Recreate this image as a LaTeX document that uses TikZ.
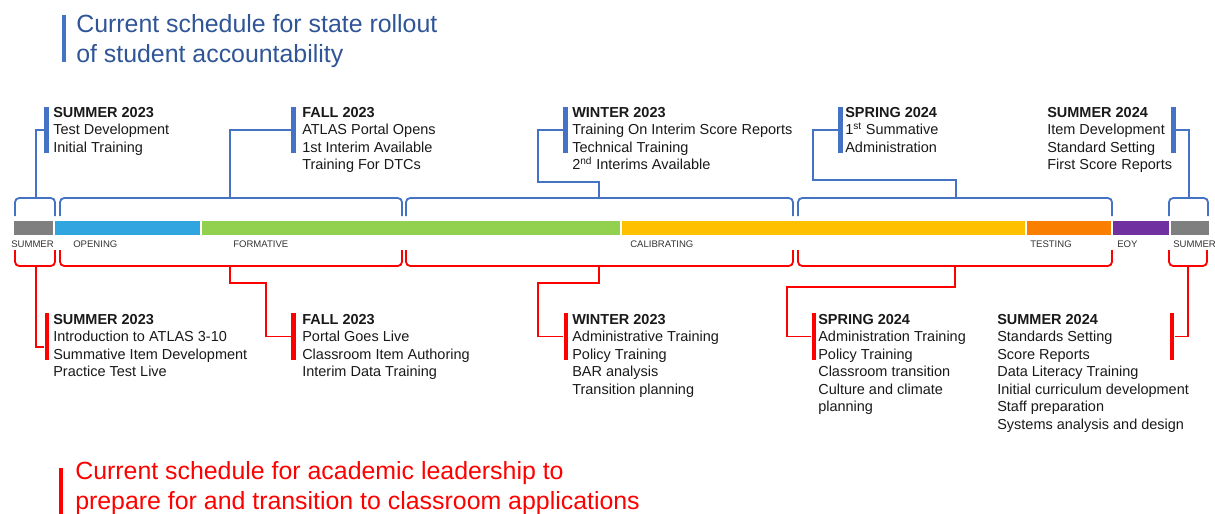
\documentclass[tikz,border=0pt]{standalone}
\usepackage{fontspec}
\setmainfont{Liberation Sans}
\usepackage{tikz}
\usetikzlibrary{positioning}

\definecolor{lineblue}{HTML}{4472C4}
\definecolor{titleblue}{HTML}{2F5597}
\definecolor{linered}{HTML}{FF0000}
\definecolor{sumgray}{HTML}{7F7F7F}
\definecolor{openblue}{HTML}{30A5E0}
\definecolor{formgreen}{HTML}{92D050}
\definecolor{calyellow}{HTML}{FFC000}
\definecolor{testorange}{HTML}{FA7F00}
\definecolor{eoypurple}{HTML}{7030A0}

\begin{document}
\begin{tikzpicture}[x=0.025cm, y=-0.025cm,
  item/.style={anchor=north west, align=left, inner sep=0pt, text=black!90,
    font=\fontsize{10.3}{12.45}\selectfont},
  phase/.style={anchor=west, inner sep=0pt, text=black!80,
    font=\fontsize{6.8}{8}\selectfont},
  heading/.style={anchor=north west, align=left, inner sep=0pt,
    font=\fontsize{17.7}{21.7}\selectfont},
  bluebar/.style={fill=lineblue, inner sep=0pt, minimum width=0.12cm, minimum height=1.15cm},
  redbar/.style={fill=linered, inner sep=0pt, minimum width=0.12cm, minimum height=1.17cm},
  blueline/.style={draw=lineblue, line width=1.3pt},
  redline/.style={draw=linered, line width=1.3pt}]
  \useasboundingbox (0,0) rectangle (1215,513);

  % headings
  \fill[lineblue] (62,15) rectangle (65.5,62);
  \node[heading, text=titleblue] (stateHead) at (76,14)
    {Current schedule for state rollout\\of student accountability};
  \fill[linered] (59,468) rectangle (63,520);
  \node[heading, text=linered] (leadHead) at (75,461)
    {Current schedule for academic leadership to\\prepare for and transition to classroom applications};

  % the year, phase by phase
  \fill[sumgray]    (14,221)     rectangle (53,235);
  \fill[openblue]   (54.5,221)   rectangle (200,235);
  \fill[formgreen]  (201.5,221)  rectangle (620,235);
  \fill[calyellow]  (622,221)    rectangle (1025,235);
  \fill[testorange] (1026.5,221) rectangle (1111,235);
  \fill[eoypurple]  (1112.5,221) rectangle (1169,235);
  \fill[sumgray]    (1170.5,221) rectangle (1209,235);

  \node[phase] (phSum)  at (11,244)   {SUMMER};
  \node[phase] (phOpen) at (73,244)   {OPENING};
  \node[phase] (phForm) at (233,244)  {FORMATIVE};
  \node[phase] (phCal)  at (630,244)  {CALIBRATING};
  \node[phase] (phTest) at (1030,244) {TESTING};
  \node[phase] (phEoy)  at (1117,244) {EOY};
  \node[phase] (phSum2) at (1173,244) {SUMMER};

  % state rollout, above
  \draw[blueline, rounded corners=3pt] (15,216) -- (15,198) -- (55,198) -- (55,216);
  \draw[blueline, rounded corners=3pt] (60,216) -- (60,198) -- (402,198) -- (402,216);
  \draw[blueline, rounded corners=3pt] (406,216) -- (406,198) -- (793,198) -- (793,216);
  \draw[blueline, rounded corners=3pt] (798,216) -- (798,198) -- (1112,198) -- (1112,216);
  \draw[blueline, rounded corners=3pt] (1169,216) -- (1169,198) -- (1208,198) -- (1208,216);
  \coordinate (upSu23) at (36,198);
  \coordinate (upFa23) at (230,198);
  \coordinate (upWi23) at (599,198);
  \coordinate (upSp24) at (956,198);
  \coordinate (upSu24) at (1189,198);

  \node[bluebar] (barSu23) at (46.5,130)   {};
  \node[bluebar] (barFa23) at (293.7,130)  {};
  \node[bluebar] (barWi23) at (565.5,130)  {};
  \node[bluebar] (barSp24) at (840.5,130)  {};
  \node[bluebar] (barSu24) at (1173.5,130) {};

  \node[item] (topSu23) at (53,107)
    {\textbf{SUMMER 2023}\\Test Development\\Initial Training};
  \node[item] (topFa23) at (302,107)
    {\textbf{FALL 2023}\\ATLAS Portal Opens\\1st Interim Available\\Training For DTCs};
  \node[item] (topWi23) at (572,107)
    {\textbf{WINTER 2023}\\Training On Interim Score Reports\\Technical Training\\2\textsuperscript{nd} Interims Available};
  \node[item] (topSp24) at (845,107)
    {\textbf{SPRING 2024}\\1\textsuperscript{st} Summative\\Administration};
  \node[item] (topSu24) at (1047,107)
    {\textbf{SUMMER 2024}\\Item Development\\Standard Setting\\First Score Reports};

  \draw[blueline] (upSu23) |- (barSu23.west);
  \draw[blueline] (upFa23) |- (barFa23.west);
  \draw[blueline] (upWi23) |- (538,182) |- (barWi23.west);
  \draw[blueline] (upSp24) |- (813,180) |- (barSp24.west);
  \draw[blueline] (upSu24) |- (barSu24.east);

  % academic leadership, below
  \draw[redline, rounded corners=3pt] (15,250) -- (15,266) -- (55,266) -- (55,250);
  \draw[redline, rounded corners=3pt] (60,250) -- (60,266) -- (402,266) -- (402,250);
  \draw[redline, rounded corners=3pt] (406,250) -- (406,266) -- (793,266) -- (793,250);
  \draw[redline, rounded corners=3pt] (798,250) -- (798,266) -- (1112,266) -- (1112,250);
  \draw[redline, rounded corners=3pt] (1169,250) -- (1169,266) -- (1207,266) -- (1207,250);
  \coordinate (dnSu23) at (36,266);
  \coordinate (dnFa23) at (230,266);
  \coordinate (dnWi23) at (599,266);
  \coordinate (dnSp24) at (955,266);
  \coordinate (dnSu24) at (1188,266);

  \node[redbar] (rbarSu23) at (47,336.5)   {};
  \node[redbar] (rbarFa23) at (293.5,336.5) {};
  \node[redbar] (rbarWi23) at (566,336.5)  {};
  \node[redbar] (rbarSp24) at (814,336.5)  {};
  \node[redbar] (rbarSu24) at (1172,336.5) {};

  \node[item] (lowSu23) at (53,314)
    {\textbf{SUMMER 2023}\\Introduction to ATLAS 3-10\\Summative Item Development\\Practice Test Live};
  \node[item] (lowFa23) at (302,314)
    {\textbf{FALL 2023}\\Portal Goes Live\\Classroom Item Authoring\\Interim Data Training};
  \node[item] (lowWi23) at (572,314)
    {\textbf{WINTER 2023}\\Administrative Training\\Policy Training\\BAR analysis\\Transition planning};
  \node[item] (lowSp24) at (818,314)
    {\textbf{SPRING 2024}\\Administration Training\\Policy Training\\Classroom transition\\Culture and climate\\planning};
  \node[item] (lowSu24) at (997,314)
    {\textbf{SUMMER 2024}\\Standards Setting\\Score Reports\\Data Literacy Training\\Initial curriculum development\\Staff preparation\\Systems analysis and design};

  \draw[redline] (dnSu23) |- (rbarSu23.west |- 0,347);
  \draw[redline] (dnFa23) |- (266,283) |- (rbarFa23.west);
  \draw[redline] (dnWi23) |- (538,283) |- (rbarWi23.west);
  \draw[redline] (dnSp24) |- (787,287) |- (rbarSp24.west);
  \draw[redline] (dnSu24) |- (rbarSu24.east);
\end{tikzpicture}
\end{document}
